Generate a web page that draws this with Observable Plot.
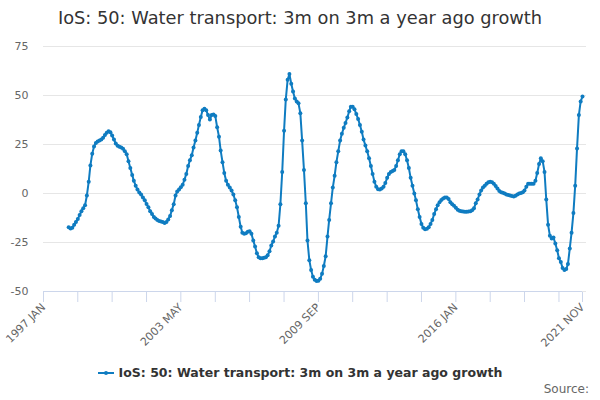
<!DOCTYPE html>
<html>
<head>
<meta charset="utf-8">
<script src="https://cdn.jsdelivr.net/npm/d3@7"></script>
<script src="https://cdn.jsdelivr.net/npm/@observablehq/plot@0.6"></script>
<style>
  html, body { margin: 0; padding: 0; background: #fff; }
  body { width: 600px; height: 400px; position: relative; overflow: hidden; font-family: "DejaVu Sans", sans-serif; }
  #title { position: absolute; top: 6px; left: 0; width: 600px; text-align: center; font-size: 17.8px; line-height: 24px; color: #333; }
  #chart { position: absolute; top: 36px; left: 0; }
  #legend { position: absolute; top: 364px; left: 0; width: 600px; text-align: center; font-size: 12.5px; font-weight: bold; line-height: 18px; color: #333; }
  #legend svg { vertical-align: middle; margin-right: 5px; position: relative; top: -1px; }
  #source { position: absolute; top: 381px; right: 11px; font-size: 12px; line-height: 16px; color: #666; }
</style>
</head>
<body>
<div id="title"></div>
<div id="chart"></div>
<div id="legend"></div>
<div id="source">Source:</div>
<script>
const titleText = "IoS: 50: Water transport: 3m on 3m a year ago growth";
const seriesName = "IoS: 50: Water transport: 3m on 3m a year ago growth";
const lineColor = "#0f7cc1";

// First month with data, and monthly values (per cent), one row per year
const firstMonth = "1998-03";
const growth1998 = [-17.2,-17.8,-17.5,-16,-14.5,-13,-11,-9,-7.5,-6];
const growth1999 = [-1,6,14.3,20.3,24,25.8,26.5,27,27.5,28.5,29.8,31];
const growth2000 = [31.8,31.2,29.6,27.5,25.5,24.3,23.8,23.5,22.8,21.5,20,16.5];
const growth2001 = [13,9.5,6.5,4,2,0.5,-0.5,-2,-3.5,-5.3,-7,-9];
const growth2002 = [-10.5,-12,-12.8,-13.5,-14,-14.3,-14.6,-15,-14.5,-13.3,-11.5,-8.5];
const growth2003 = [-5.5,-1,1,2,3.2,4.5,7,10,14,17,19.5,23.5];
const growth2004 = [27,31,35,39,42.5,43.3,42.5,40,37.8,40,40.3,39.5];
const growth2005 = [33.8,29,22,16,10.5,6.5,4.5,3,1.5,-0.5,-3.5,-7];
const growth2006 = [-12,-17,-20,-20.5,-20.3,-19.5,-19.2,-20.5,-24,-27,-30.5,-32.5];
const growth2007 = [-33,-33,-32.8,-32.5,-31.5,-29.5,-26.5,-24.5,-22,-20,-16.5,-5.5];
const growth2008 = [11,32,48,58,61,56,52,48.5,47,46,41,27];
const growth2009 = [12,-5,-24,-34,-39,-42.5,-44,-44.6,-44.5,-43.5,-41,-37];
const growth2010 = [-32,-22,-13.5,-5,3,9,16,21.5,27,30.5,33.5,36];
const growth2011 = [38.8,42,44.3,44.3,43,40.5,38,35,31.5,27.5,24.5,21.5];
const growth2012 = [18,14,10,6,3.5,2.2,2,2.5,3.5,5.3,8,10];
const growth2013 = [11,11.5,12,14,17,20,21.5,21.5,20,17,13,8];
const growth2014 = [4,0,-3.5,-8,-12,-15.5,-17.5,-18.3,-18,-17.2,-15.5,-13.5];
const growth2015 = [-10.5,-8,-6,-4.5,-3.3,-2.5,-2,-2,-2.8,-4.5,-5.5,-6.2];
const growth2016 = [-7.3,-8.3,-8.8,-9,-9.2,-9.3,-9.3,-9.2,-9,-8.5,-7.5,-5];
const growth2017 = [-3,-0.5,1.5,3,4,5,5.7,6,5.8,5,3.8,2.5];
const growth2018 = [1.3,0.7,0.4,0,-0.5,-0.8,-1,-1.3,-1.5,-1.2,-0.5,0];
const growth2019 = [0.2,0.6,1.5,3.5,5,5,5,5,6.5,10.5,15,18];
const growth2020 = [16.5,11,-3,-16,-21.5,-23,-22.5,-25.5,-29,-33,-35,-38];
const growth2021 = [-39,-38.5,-36,-28,-20,-10,4,23,40,47,49.5];

// Axis definitions
const xStart = "1997-01";
const xEnd = "2021-11";
const tickMonths = ["1997-01","1998-08","2000-03","2001-10","2003-05","2004-12","2006-07","2008-02","2009-09","2011-04","2012-11","2014-06","2016-01","2017-08","2019-03","2020-10","2021-11"];
const labelMonths = ["1997-01","2003-05","2009-09","2016-01","2021-11"];
const labelTexts = ["1997 JAN","2003 MAY","2009 SEP","2016 JAN","2021 NOV"];
const yTicks = [-50,-25,0,25,50,75];

const toDate = s => new Date(s + "-01T00:00:00Z");
const growth = [].concat(growth1998, growth1999, growth2000, growth2001, growth2002, growth2003,
  growth2004, growth2005, growth2006, growth2007, growth2008, growth2009, growth2010, growth2011,
  growth2012, growth2013, growth2014, growth2015, growth2016, growth2017, growth2018, growth2019,
  growth2020, growth2021);
const start = toDate(firstMonth);
const data = growth.map((v, i) => ({date: d3.utcMonth.offset(start, i), value: v}));
const tickDates = tickMonths.map(toDate);
const labelMap = new Map(labelMonths.map((m, i) => [+toDate(m), labelTexts[i]]));

document.getElementById("title").textContent = titleText;

const plot = Plot.plot({
  width: 600,
  height: 320,
  marginLeft: 43,
  marginRight: 14,
  marginTop: 10,
  marginBottom: 64,
  style: {fontFamily: "DejaVu Sans, sans-serif", fontSize: "11px", color: "#666", background: "white", overflow: "visible"},
  x: {type: "utc", domain: [toDate(xStart), toDate(xEnd)], range: [43, 582]},
  y: {domain: [-50, 75], range: [255, 10]},
  marks: [
    Plot.ruleY(yTicks, {stroke: "#e6e6e6", strokeWidth: 1}),
    Plot.ruleY([-50], {stroke: "#ccd6eb", strokeWidth: 1, x1: toDate(xStart), x2: toDate(xEnd)}),
    Plot.axisY(yTicks, {tickSize: 0, tickPadding: 15, fill: "#666", fontSize: 11, label: null, tickFormat: d => String(d)}),
    Plot.axisX(tickDates, {
      tickSize: 10, stroke: "#ccd6eb", tickRotate: -45, tickPadding: 3,
      fill: "#666", fontSize: 11, label: null,
      tickFormat: d => labelMap.get(+d) || ""
    }),
    Plot.line(data, {x: "date", y: "value", stroke: lineColor, strokeWidth: 2}),
    Plot.dot(data, {x: "date", y: "value", r: 2, fill: lineColor, stroke: "none"})
  ]
});
document.getElementById("chart").appendChild(plot);

// Legend
const legend = document.getElementById("legend");
const ns = "http://www.w3.org/2000/svg";
const sym = document.createElementNS(ns, "svg");
sym.setAttribute("width", 16); sym.setAttribute("height", 10);
const ln = document.createElementNS(ns, "line");
ln.setAttribute("x1", 0); ln.setAttribute("x2", 16); ln.setAttribute("y1", 5); ln.setAttribute("y2", 5);
ln.setAttribute("stroke", lineColor); ln.setAttribute("stroke-width", 2);
const c = document.createElementNS(ns, "circle");
c.setAttribute("cx", 8); c.setAttribute("cy", 5); c.setAttribute("r", 2); c.setAttribute("fill", lineColor);
sym.appendChild(ln); sym.appendChild(c);
legend.appendChild(sym);
const span = document.createElement("span");
span.textContent = seriesName;
legend.appendChild(span);
</script>
</body>
</html>
